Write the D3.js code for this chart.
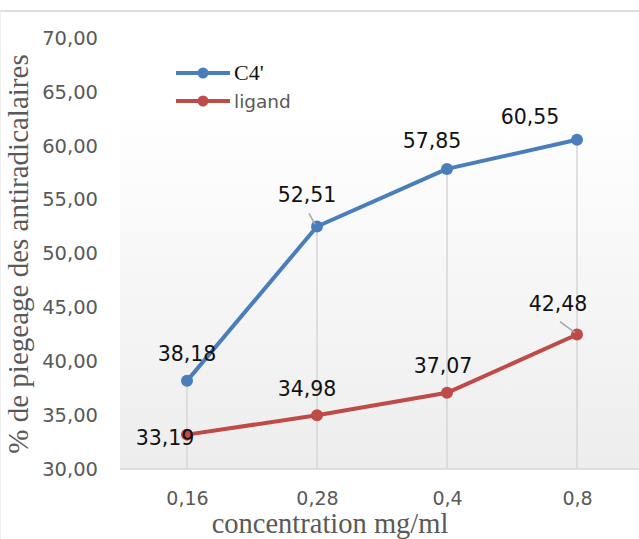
<!DOCTYPE html>
<html>
<head>
<meta charset="utf-8">
<script src="https://cdn.jsdelivr.net/npm/d3@7"></script>
<style>
  html, body { margin: 0; padding: 0; background: #ffffff; }
  svg { display: block; }
</style>
</head>
<body>
<div id="chart"></div>
<script>
// Concentrations (mg/ml) and trapping percentages
const categories = ["0,16", "0,28", "0,4", "0,8"];
const seriesNames = ["C4'", "ligand"];
const c4Values = [38.18, 52.51, 57.85, 60.55];
const ligandValues = [33.19, 34.98, 37.07, 42.48];
const yTicks = [30, 35, 40, 45, 50, 55, 60, 65, 70];

const W = 639, H = 539;
const colors = { "C4'": "#4a7ebb", "ligand": "#be4b48" };
const sans = "'DejaVu Sans', sans-serif";
const serif = "'Liberation Serif', 'Times New Roman', serif";

const series = [
  { name: seriesNames[0], values: c4Values },
  { name: seriesNames[1], values: ligandValues }
];

// label placement relative to each marker: [dx, dy, leader]
const labelLayout = {
  "C4'":   [[0, -20, false], [-10, -24, true], [-15, -21, false], [-47, -16, false]],
  "ligand": [[-22, 10, false], [-10, -19, false], [-4, -20, false], [-19, -24, true]]
};

const svg = d3.select("#chart").append("svg")
  .attr("width", W).attr("height", H);

const plot = { left: 120, right: 639, top: 109, bottom: 469 };

const x = d3.scalePoint().domain(categories).range([122, 642]).padding(0.5);
const y = d3.scaleLinear().domain([30, 70]).range([469, 38]);

const fmt = v => v.toFixed(2).replace(".", ",");

// plot background gradient
const defs = svg.append("defs");
const grad = defs.append("linearGradient").attr("id", "plotBg")
  .attr("x1", 0).attr("y1", 0).attr("x2", 0).attr("y2", 1);
grad.append("stop").attr("offset", "0%").attr("stop-color", "#ffffff");
grad.append("stop").attr("offset", "100%").attr("stop-color", "#ededed");

// chart frame lines
svg.append("line").attr("x1", 0).attr("x2", W).attr("y1", 11).attr("y2", 11)
  .attr("stroke", "#dedede").attr("stroke-width", 2);
svg.append("line").attr("x1", 0.5).attr("x2", 0.5).attr("y1", 11).attr("y2", H)
  .attr("stroke", "#efefef").attr("stroke-width", 1);

svg.append("rect")
  .attr("x", plot.left).attr("y", plot.top)
  .attr("width", plot.right - plot.left).attr("height", plot.bottom - plot.top)
  .attr("fill", "url(#plotBg)");

// drop lines from the highest marker to the axis
svg.append("g").selectAll("line").data(categories).join("line")
  .attr("x1", d => x(d)).attr("x2", d => x(d))
  .attr("y1", (d, i) => y(Math.max(c4Values[i], ligandValues[i])))
  .attr("y2", y(30))
  .attr("stroke", "#d6d6d6").attr("stroke-width", 1.5);

// category axis
const xAxis = svg.append("g").attr("transform", `translate(0,${y(30)})`)
  .call(d3.axisBottom(x).tickSize(0).tickPadding(23));
xAxis.select(".domain").remove();
xAxis.append("line").attr("x1", plot.left).attr("x2", plot.right)
  .attr("stroke", "#d6d6d6").attr("stroke-width", 1.5);
xAxis.selectAll("text")
  .attr("font-family", sans).attr("font-size", 19)
  .attr("fill", "#595959");

// value axis
const yAxis = svg.append("g").attr("transform", "translate(98,0)")
  .call(d3.axisLeft(y).tickValues(yTicks).tickSize(0).tickPadding(0).tickFormat(fmt));
yAxis.select(".domain").remove();
yAxis.selectAll("text")
  .attr("font-family", sans).attr("font-size", 19.5)
  .attr("fill", "#595959");

// axis titles
svg.append("text")
  .attr("transform", `translate(28,254) rotate(-90)`)
  .attr("text-anchor", "middle")
  .attr("font-family", serif)
  .attr("font-size", 29).attr("fill", "#595959")
  .text("% de piegeage des antiradicalaires");

svg.append("text")
  .attr("x", 330).attr("y", 533)
  .attr("text-anchor", "middle")
  .attr("font-family", serif)
  .attr("font-size", 28.5).attr("fill", "#595959")
  .text("concentration mg/ml");

// series lines and markers
const line = d3.line().x((d, i) => x(categories[i])).y(d => y(d));

series.forEach(s => {
  const g = svg.append("g");
  g.append("path").datum(s.values)
    .attr("d", line).attr("fill", "none")
    .attr("stroke", colors[s.name]).attr("stroke-width", 4)
    .attr("stroke-linejoin", "round").attr("stroke-linecap", "round");
  g.selectAll("circle").data(s.values).join("circle")
    .attr("cx", (d, i) => x(categories[i])).attr("cy", d => y(d))
    .attr("r", 6).attr("fill", colors[s.name]);
});

// data labels
series.forEach(s => {
  const g = svg.append("g");
  s.values.forEach((v, i) => {
    const [dx, dy, leader] = labelLayout[s.name][i];
    const px = x(categories[i]), py = y(v);
    if (leader) {
      g.append("line")
        .attr("x1", px + dx + 2).attr("y1", py + dy + 11)
        .attr("x2", px - 2).attr("y2", py - 2)
        .attr("stroke", "#a6a6a6").attr("stroke-width", 1.5);
    }
    g.append("text")
      .attr("x", px + dx).attr("y", py + dy)
      .attr("text-anchor", "middle")
      .attr("font-family", sans).attr("font-size", 20.5)
      .attr("fill", "#111111")
      .text(fmt(v));
  });
});

// legend
const legend = svg.append("g");
series.forEach((s, i) => {
  const ly = 73 + i * 28;
  legend.append("line").attr("x1", 176).attr("x2", 230).attr("y1", ly).attr("y2", ly)
    .attr("stroke", colors[s.name]).attr("stroke-width", 4);
  legend.append("circle").attr("cx", 203).attr("cy", ly).attr("r", 5.5)
    .attr("fill", colors[s.name]);
  const t = legend.append("text").attr("x", 234).attr("y", ly + 7).text(s.name);
  if (i === 0) {
    t.attr("font-family", serif)
      .attr("font-size", 22).attr("fill", "#111111");
  } else {
    t.attr("font-family", sans)
      .attr("font-size", 18.5).attr("fill", "#595959");
  }
});
</script>
</body>
</html>
